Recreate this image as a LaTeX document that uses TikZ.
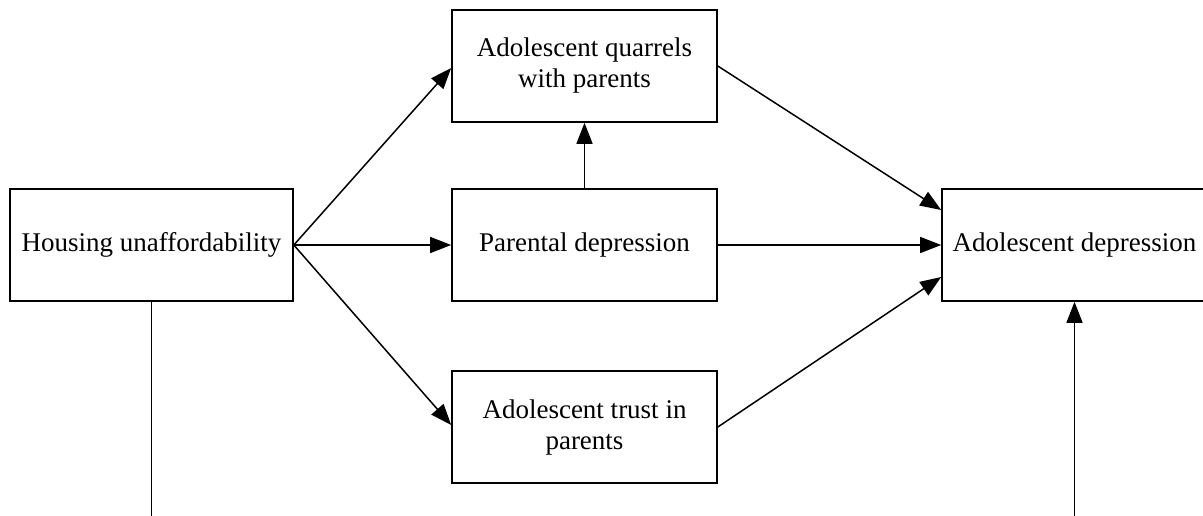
\documentclass[tikz,border=0pt]{standalone}
\usepackage{fontspec}
\setmainfont{Liberation Serif}
\usetikzlibrary{arrows.meta}
\begin{document}
\begin{tikzpicture}[x=1pt,y=-1pt,
  box/.style={draw=black,line width=1.6pt,rectangle,minimum width=265pt,minimum height=112pt,
    inner sep=0pt,align=center,font=\fontsize{27}{31}\selectfont},
  conn/.style={line width=1.5pt,-{Triangle[length=21pt,width=16pt]}},
  plain/.style={line width=1.5pt}]
\useasboundingbox (0,0) rectangle (1203,515);
\begin{scope}
\clip (0,0) rectangle (1203,515);
\node[box,minimum width=283pt] (hu) at (151.5,245) {Housing unaffordability};
\node[box] (q) at (584.5,66) {Adolescent quarrels\\with parents};
\node[box] (pd) at (584.5,245) {Parental depression};
\node[box] (tr) at (584.5,427) {Adolescent trust in\\parents};
\node[box] (ad) at (1074.5,245) {Adolescent depression};
\coordinate (b1) at (151.5,520);
\coordinate (b2) at (1074.5,520);
\draw[conn] (hu.east) -- ([yshift=-2pt]q.west);
\draw[conn] (hu.east) -- (pd.west);
\draw[conn] (hu.east) -- ([yshift=2pt]tr.west);
\draw[conn] (pd.north) -- (q.south);
\draw[conn] (q.east) -- ([yshift=35pt]ad.west);
\draw[conn] (pd.east) -- (ad.west);
\draw[conn] (tr.east) -- ([yshift=-32pt]ad.west);
\draw[plain] (hu.south) -- (b1);
\draw[conn] (b2) -- (ad.south);
\end{scope}
\end{tikzpicture}
\end{document}
